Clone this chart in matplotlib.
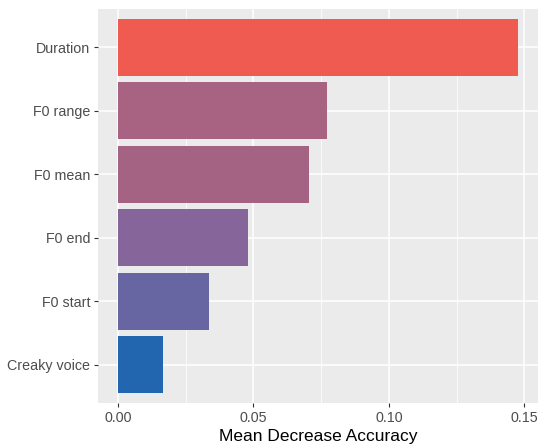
import matplotlib
matplotlib.use("Agg")
import matplotlib.pyplot as plt
import numpy as np

# variable importance (random forest)
features = ["Creaky voice", "F0 start", "F0 end", "F0 mean", "F0 range", "Duration"]
importance = [0.0165, 0.0335, 0.0479, 0.0705, 0.0773, 0.1477]
x_ticks = [0.00, 0.05, 0.10, 0.15]
x_tick_labels = ["0.00", "0.05", "0.10", "0.15"]
x_label = "Mean Decrease Accuracy"

# fill colours as seen in the image (gradient blue -> red)
bar_colors = ["#2166AE", "#6866A2", "#85659A", "#A46383", "#A86282", "#EF5B50"]

plt.rcParams['font.family'] = ['Liberation Sans', 'DejaVu Sans']

fig = plt.figure(figsize=(5.38, 4.45), dpi=100)
ax = fig.add_axes([98 / 538, 42 / 445, 440 / 538, 394 / 445])
ax.set_facecolor("#EBEBEB")

ypos = np.arange(1, len(features) + 1)
ax.barh(ypos, importance, height=0.9, color=bar_colors, zorder=3)

xmax = max(importance)
pad = xmax * 0.05
ax.set_xlim(-pad, xmax + pad)
ax.set_ylim(0.4, len(features) + 0.6)

ax.set_xticks(x_ticks)
ax.set_xticklabels(x_tick_labels)
ax.set_xticks([0.025, 0.075, 0.125], minor=True)
ax.set_yticks(ypos)
ax.set_yticklabels(features)

ax.grid(which="major", color="white", linewidth=1.1, zorder=1)
ax.grid(which="minor", axis="x", color="white", linewidth=0.55, zorder=1)
ax.set_axisbelow(True)

for s in ax.spines.values():
    s.set_visible(False)

ax.tick_params(axis="both", which="major", length=3, width=0.8, color="#333333",
               labelcolor="#4D4D4D", labelsize=10.3, pad=2.5)
ax.tick_params(axis="x", which="minor", length=0)
ax.set_xlabel(x_label, fontsize=12.5, color="black", labelpad=3)

fig.savefig("out.png", dpi=100)
